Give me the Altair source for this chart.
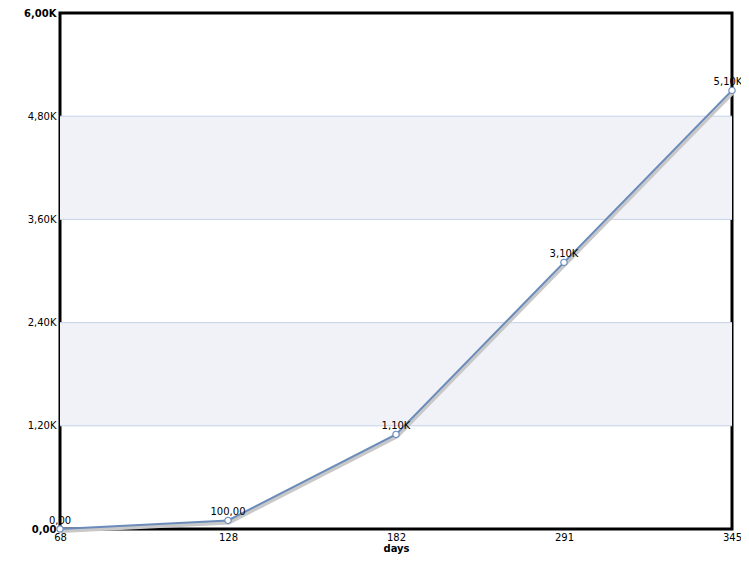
import altair as alt
import pandas as pd

days = ["68", "128", "182", "291", "345"]
values = [0, 100, 1100, 3100, 5100]
value_labels = ["0,00", "100,00", "1,10K", "3,10K", "5,10K"]
label_dx = [0, 0, 0, 0, -4]
band_starts = [1200, 3600]
band_ends = [2400, 4800]
grid_values = [1200, 2400, 3600, 4800]

df = pd.DataFrame({"days": days, "value": values, "label": value_labels, "dx": label_dx})
bands = pd.DataFrame({"y": band_starts, "y2": band_ends})
grid = pd.DataFrame({"y": grid_values})

font = "DejaVu Sans"

x_enc = alt.X("days:O", sort=days, scale=alt.Scale(type="point", padding=0),
              axis=alt.Axis(title="days", titleFontWeight="bold", titleFontSize=10,
                            titleFont=font, labelFont=font, labelFontSize=10,
                            labelAngle=0, ticks=False, domain=False, grid=False,
                            labelPadding=3, titlePadding=1, labelColor="black",
                            titleColor="black"))
y_scale = alt.Scale(domain=[0, 6000], nice=False)
y_axis = alt.Axis(title=None, values=[0, 1200, 2400, 3600, 4800, 6000],
                  labelExpr="datum.value == 0 ? '0,00' : replace(format(datum.value/1000, '.2f'), '.', ',') + 'K'",
                  labelFontWeight=alt.condition("datum.value == 0 || datum.value == 6000",
                                                alt.value("bold"), alt.value("normal")),
                  labelFont=font, labelFontSize=10, labelColor="black",
                  ticks=False, domain=False, grid=False, labelPadding=4)

band_layer = alt.Chart(bands).mark_rect(color="#f1f2f7").encode(
    y=alt.Y("y:Q", scale=y_scale, axis=y_axis), y2="y2:Q")
grid_layer = alt.Chart(grid).mark_rule(color="#c5d3e8", strokeWidth=1).encode(
    y=alt.Y("y:Q", scale=y_scale))

base = alt.Chart(df).encode(x=x_enc, y=alt.Y("value:Q", scale=y_scale, axis=y_axis))
shadow = base.mark_line(color="#c8c8c8", strokeWidth=4, xOffset=1, yOffset=2)
line = base.mark_line(color="#6b8cba", strokeWidth=2)
points = base.mark_point(shape="circle", filled=True, fill="white", stroke="#6b8cba",
                         strokeWidth=1.2, size=40, opacity=1)
labels = base.mark_text(dy=-8, font=font, fontSize=10, color="black").encode(
    text="label:N", xOffset=alt.XOffset("dx:Q", scale=None))

chart = alt.layer(band_layer, grid_layer, shadow, line, points, labels).properties(
    width=672, height=516,
    background="white",
    autosize=alt.AutoSizeParams(type="none"),
    padding={"left": 52, "top": 5, "right": 9, "bottom": 30},
).configure_view(stroke="black", strokeWidth=3)

chart.save("out.html", embed_options={"renderer": "svg", "actions": False})
